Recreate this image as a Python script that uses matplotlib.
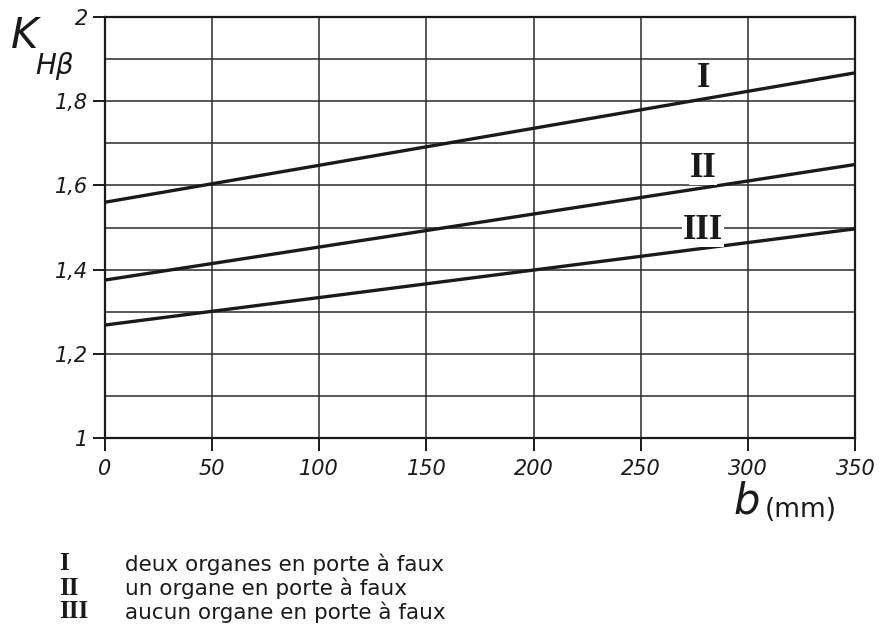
import matplotlib
matplotlib.use("Agg")
import matplotlib.pyplot as plt
import numpy as np

# Face width b (mm) and load distribution factor K_Hβ for each arrangement
b_mm = [0, 350]
k_two_overhung = [1.56, 1.868]
k_one_overhung = [1.375, 1.65]
k_none_overhung = [1.268, 1.497]

curve_labels = ["I", "II", "III"]
curve_label_pos = [(279, 1.855), (279, 1.641), (279, 1.494)]
legend_numerals = ["I", "II", "III"]
legend_texts = ["deux organes en porte à faux",
                "un organe en porte à faux",
                "aucun organe en porte à faux"]

x_ticks = [0, 50, 100, 150, 200, 250, 300, 350]
y_ticks = [1.0, 1.2, 1.4, 1.6, 1.8, 2.0]
y_tick_labels = ["1", "1,2", "1,4", "1,6", "1,8", "2"]
y_minor = [1.1, 1.3, 1.5, 1.7, 1.9]

ink = "#1a1a1a"

fig = plt.figure(figsize=(8.8, 6.4), dpi=100)
ax = fig.add_axes([0.119, 0.316, 0.853, 0.657])

ax.set_xlim(0, 350)
ax.set_ylim(1.0, 2.0)

# grid
for x in x_ticks:
    ax.axvline(x, color="#2a2a2a", lw=1.1, zorder=1)
for y in y_ticks + y_minor:
    ax.axhline(y, color="#2a2a2a", lw=1.1, zorder=1)

for series in (k_two_overhung, k_one_overhung, k_none_overhung):
    ax.plot(b_mm, series, color=ink, lw=2.4, zorder=3, solid_capstyle="butt")

for lab, (x, y) in zip(curve_labels, curve_label_pos):
    ax.text(x, y, lab, ha="center", va="center", fontsize=25,
            family="Liberation Serif", fontweight="bold", color=ink,
            bbox=dict(facecolor="white", edgecolor="none", pad=0.5), zorder=4)

for s in ax.spines.values():
    s.set_color(ink)
    s.set_linewidth(1.6)

ax.set_xticks(x_ticks)
ax.set_xticklabels([str(v) for v in x_ticks], fontsize=15, style="italic")
ax.set_yticks(y_ticks)
ax.set_yticklabels(y_tick_labels, fontsize=15, style="italic")
ax.tick_params(axis="both", direction="out", length=9, width=1.4, colors=ink,
               pad=3)
ax.tick_params(axis="x", pad=6)

fig.text(0.012, 0.925, "K", fontsize=30, style="italic", color=ink,
         family="DejaVu Sans")
fig.text(0.040, 0.885, "Hβ", fontsize=20, style="italic", color=ink,
         family="DejaVu Sans")

fig.text(0.848, 0.216, "b", fontsize=30, style="italic", color=ink,
         ha="center", va="center")
fig.text(0.869, 0.203, "(mm)", fontsize=19, color=ink, ha="left",
         va="center")

rows_y = [0.119, 0.081, 0.044]
for num, txt, yy in zip(legend_numerals, legend_texts, rows_y):
    fig.text(0.067, yy, num, fontsize=18, family="Liberation Serif",
             fontweight="bold", color=ink, va="center")
    fig.text(0.142, yy, txt, fontsize=15.5, family="DejaVu Sans", color=ink,
             va="center")

fig.savefig("out.png", dpi=100, facecolor="white")
